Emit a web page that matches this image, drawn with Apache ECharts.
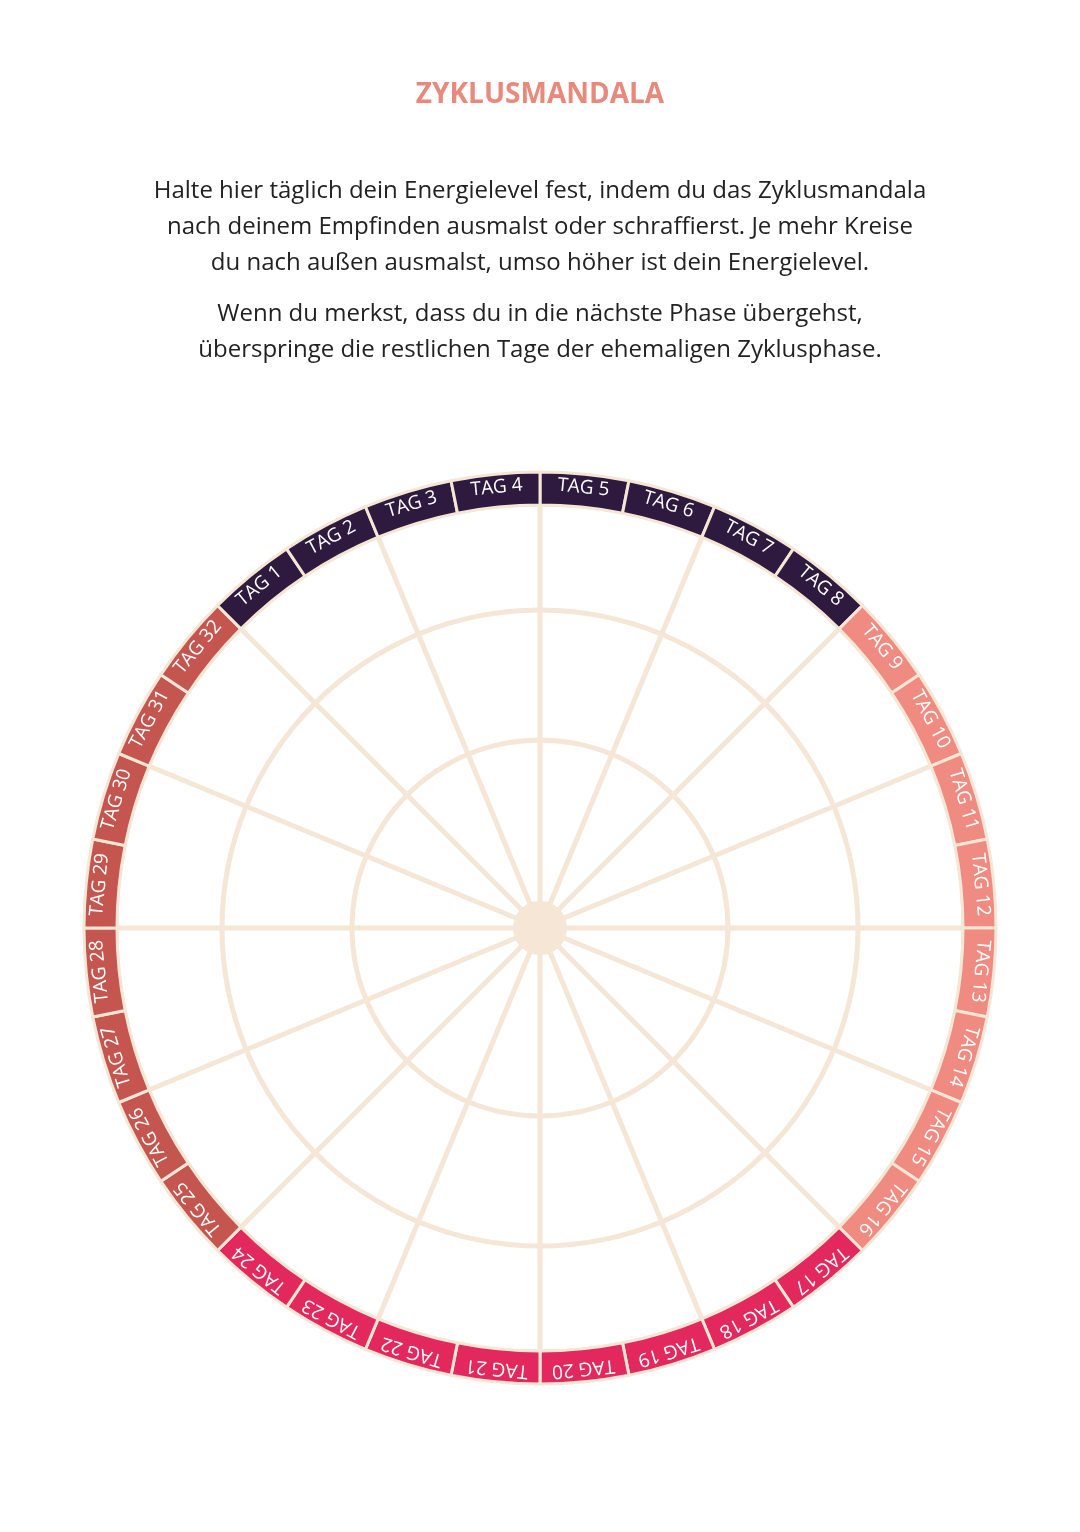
<!DOCTYPE html>
<html>
<head>
<meta charset="utf-8">
<script src="https://cdn.jsdelivr.net/npm/echarts@6/dist/echarts.min.js"></script>
<style>html,body{margin:0;padding:0;background:#fff}#main{width:1080px;height:1532px}</style>
</head>
<body>
<div id="main"></div>
<script>
// Tage, Reihenfolge im Uhrzeigersinn ab 12 Uhr (TAG 5 beginnt oben)
var days = [];
for (var d = 1; d <= 32; d++) days.push('TAG ' + d);
var order = days.slice(4).concat(days.slice(0, 4));
var phaseColors = ['#2d1a3e', '#ef8b80', '#e2285c', '#c4564f'];
var ringValues = order.map(function(){ return 1; });
var circleRadii = [188, 318];
var beige = '#f5e6d6';
var cx = 540, cy = 928;

var ringData = order.map(function(name, i){
    var num = parseInt(name.replace('TAG ', ''), 10);
    var theta = i * 11.25 + 5.625;
    return {
        name: name,
        value: ringValues[i],
        itemStyle: { color: phaseColors[Math.floor((num - 1) / 8)] },
        label: { rotate: -theta }
    };
});

function ring(r0, r1){
    return {
        type: 'pie', silent: true, center: [cx, cy], radius: [r0, r1],
        label: { show: false }, itemStyle: { color: beige },
        data: [{ value: 1 }], animation: false
    };
}

var series = [{
    type: 'pie', silent: true, center: [cx, cy], radius: [423, 456],
    startAngle: 90, clockwise: true, animation: false,
    itemStyle: { borderColor: beige, borderWidth: 3 },
    label: {
        show: true, position: 'inside', color: '#fff',
        fontFamily: 'Open Sans', fontSize: 19, formatter: '{b}'
    },
    labelLine: { show: false },
    data: ringData
}];
circleRadii.forEach(function(r){ series.push(ring(r - 2.5, r + 2.5)); });
series.push(ring(0, 27));

var bodyStyle = { fill: '#222', font: '24px "Open Sans"', textAlign: 'center', lineHeight: 36 };

var chart = echarts.init(document.getElementById('main'));
chart.setOption({
    backgroundColor: '#fff',
    title: {
        text: 'ZYKLUSMANDALA', left: 'center', top: 76,
        textStyle: { color: '#e8897c', fontSize: 28, fontWeight: 'bold', fontFamily: 'Open Sans' }
    },
    graphic: [{
        type: 'text', x: 540, y: 173,
        style: Object.assign({ text: 'Halte hier täglich dein Energielevel fest, indem du das Zyklusmandala\nnach deinem Empfinden ausmalst oder schraffierst. Je mehr Kreise\ndu nach außen ausmalst, umso höher ist dein Energielevel.' }, bodyStyle)
    }, {
        type: 'text', x: 540, y: 296,
        style: Object.assign({ text: 'Wenn du merkst, dass du in die nächste Phase übergehst,\nüberspringe die restlichen Tage der ehemaligen Zyklusphase.' }, bodyStyle)
    }],
    polar: { center: [cx, cy], radius: 424 },
    angleAxis: {
        type: 'category', data: order, startAngle: 90, clockwise: true,
        axisLine: { show: true, lineStyle: { color: beige, width: 5 } },
        axisTick: { show: false }, axisLabel: { show: false },
        splitLine: { show: true, interval: 0, lineStyle: { color: beige, width: 5 } }
    },
    radiusAxis: {
        type: 'value', min: 0, max: 424,
        axisLine: { show: false }, axisTick: { show: false }, axisLabel: { show: false },
        splitLine: { show: false }
    },
    series: series
});
</script>
</body>
</html>
